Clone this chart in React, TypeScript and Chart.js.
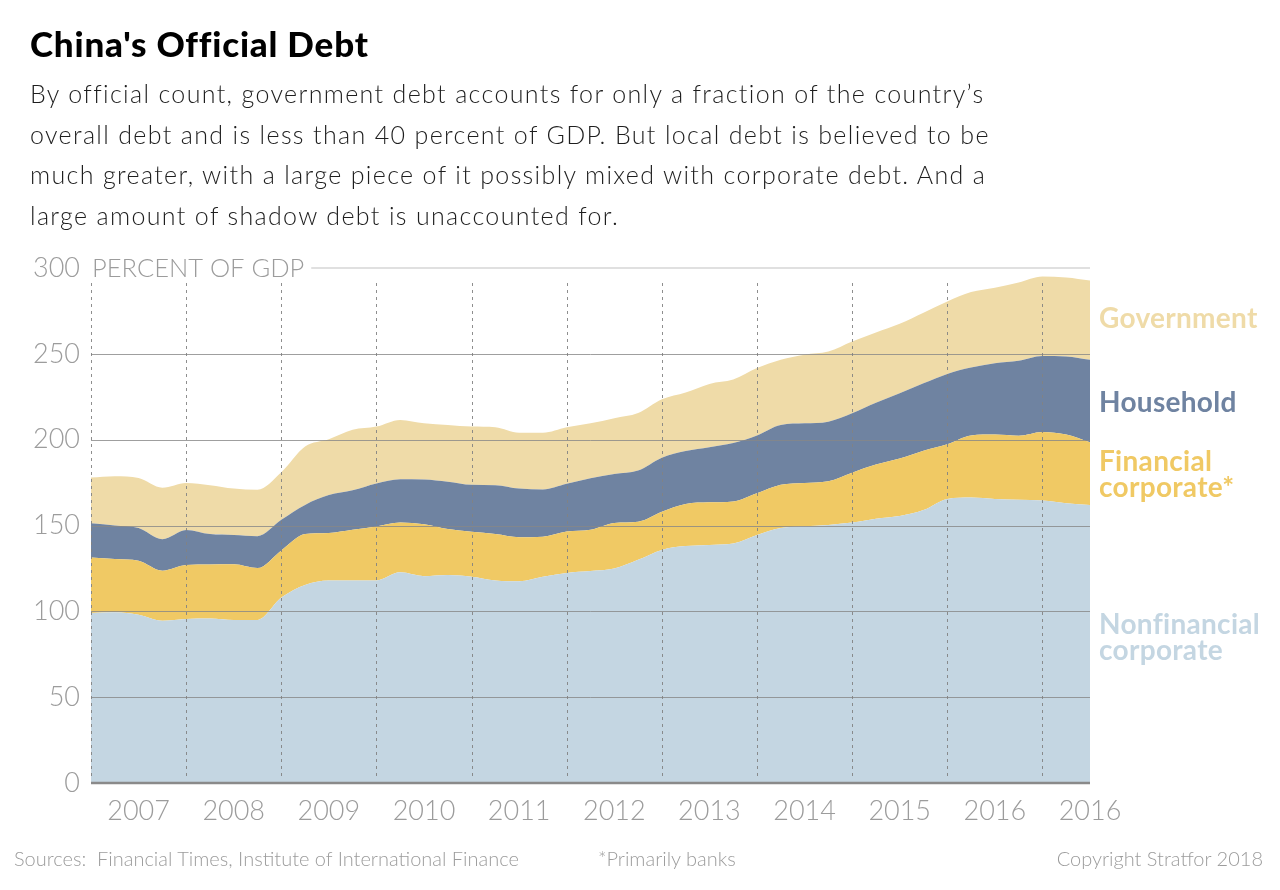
import React, { useEffect, useRef } from 'react';
import { Chart, registerables } from 'chart.js';

Chart.register(...registerables);

// Quarterly values, start of 2007 to mid-2017 (percent of GDP)
const nonfinancial = [
  99, 99.5, 98, 94.5, 95.5, 95.8, 95, 95, 108, 115.4, 118, 118, 118, 122.7, 120.5, 121.2,
  120.2, 118, 117.5, 120.2, 122.4, 123.5, 125, 130, 135.8, 138, 138.7, 139.5, 144.5, 148.5,
  149.5, 150.3, 151.7, 154, 155.5, 159, 165.5, 166.3, 165.5, 165, 164.5, 163, 162,
];
const financial = [
  32.3, 31, 31.5, 29.2, 31.5, 31.5, 32.4, 30.2, 27.5, 29.6, 27.7, 29.5, 31.4, 29, 30.3, 26.8,
  26.1, 27, 25.7, 23.3, 24.1, 24, 26.5, 22.2, 22.2, 24.5, 24.8, 24.5, 24.3, 25.2,
  25.3, 25.5, 29.1, 31.5, 33.5, 34.5, 31.8, 36.2, 37.5, 37.3, 40, 40, 36.5,
];
const household = [
  20, 19.5, 19, 18.3, 20.4, 17.7, 17.1, 18.6, 17.8, 17, 22, 23, 25.1, 25.3, 26, 27.5,
  27.4, 28.5, 28.3, 27.5, 27.8, 30, 28.5, 29.8, 31.5, 30.9, 32.1, 34, 33.7, 34.9,
  34.7, 34.7, 34.6, 36, 38, 39.3, 41, 39.5, 41.5, 43.7, 44.3, 45.5, 48,
];
const government = [
  26.6, 28.7, 29.1, 30, 27.4, 28.5, 27, 27, 27.7, 34, 32.6, 35.3, 33.1, 34.5, 32.7, 33,
  33.9, 33.7, 32.5, 33, 32.9, 32, 32.5, 33.5, 34, 34.1, 36.9, 37, 39.2, 37.9,
  40, 40.8, 41.8, 41, 40.5, 41.2, 42.2, 44, 44, 45.5, 46.2, 46, 46.2,
];

const yearLabels = ['2007', '2008', '2009', '2010', '2011', '2012', '2013', '2014', '2015', '2016', '2016'];
const yTickValues = [0, 50, 100, 150, 200, 250, 300];
const gridValues = [50, 100, 150, 200, 250];

const seriesNames = ['Nonfinancial corporate', 'Financial corporate', 'Household', 'Government'];

const C_NONFIN = '#c4d6e2';
const C_FIN = '#f0c964';
const C_HH = '#6f83a1';
const C_GOV = '#efdba8';

const LIGHT = 'Lato, "Open Sans", sans-serif';

const overlayPlugin = {
  id: 'overlay',
  afterDatasetsDraw(chart: any) {
    const { ctx, chartArea: a, scales } = chart;
    const x = scales.x;
    const y = scales.y;
    ctx.save();
    ctx.lineWidth = 1;
    ctx.strokeStyle = 'rgba(135,135,135,0.8)';
    for (const v of gridValues) {
      const py = Math.round(y.getPixelForValue(v)) + 0.5;
      ctx.beginPath();
      ctx.moveTo(a.left, py);
      ctx.lineTo(a.right, py);
      ctx.stroke();
    }
    ctx.setLineDash([3, 4]);
    ctx.strokeStyle = 'rgba(130,130,130,0.9)';
    const nYears = Math.floor((nonfinancial.length - 1) / 4);
    for (let k = 0; k <= nYears; k++) {
      const px = Math.round(x.getPixelForValue(k * 4)) + 0.5;
      ctx.beginPath();
      ctx.moveTo(px, y.getPixelForValue(300) + 15);
      ctx.lineTo(px, y.getPixelForValue(0) - 7);
      ctx.stroke();
    }
    ctx.setLineDash([]);
    const topY = y.getPixelForValue(300);
    ctx.font = `300 25.5px ${LIGHT}`;
    ctx.fillStyle = '#9c9c9c';
    ctx.textBaseline = 'middle';
    ctx.textAlign = 'left';
    const label = 'PERCENT OF GDP';
    ctx.fillText(label, a.left + 1, topY + 1);
    const w = ctx.measureText(label).width;
    ctx.strokeStyle = '#e0e0e0';
    ctx.lineWidth = 2;
    ctx.beginPath();
    ctx.moveTo(a.left + w + 8, topY);
    ctx.lineTo(a.right, topY);
    ctx.stroke();
    const by = y.getPixelForValue(0);
    ctx.strokeStyle = '#8a8a8a';
    ctx.lineWidth = 2.5;
    ctx.beginPath();
    ctx.moveTo(a.left, by);
    ctx.lineTo(a.right, by);
    ctx.stroke();
    ctx.restore();
  },
};

function ChartCanvas() {
  const ref = useRef<HTMLCanvasElement | null>(null);
  useEffect(() => {
    if (!ref.current) return;
    const quarters = nonfinancial.map((_, i) => i);
    const series = [nonfinancial, financial, household, government];
    const colors = [C_NONFIN, C_FIN, C_HH, C_GOV];
    const chart = new Chart(ref.current, {
      type: 'line',
      data: {
        labels: quarters,
        datasets: series.map((d, i) => ({
          label: seriesNames[i],
          data: d,
          backgroundColor: colors[i],
          borderColor: colors[i],
          borderWidth: 0,
          pointRadius: 0,
          fill: i === 0 ? 'origin' : '-1',
          cubicInterpolationMode: 'monotone' as const,
        })),
      },
      options: {
        responsive: false,
        animation: false,
        layout: { padding: { left: 0, top: 268, right: 190, bottom: 67 } },
        plugins: { legend: { display: false }, tooltip: { enabled: false } },
        scales: {
          x: {
            type: 'linear',
            min: 0,
            max: nonfinancial.length - 1,
            grid: { display: false, drawTicks: false },
            border: { display: false },
            afterBuildTicks: (scale: any) => {
              scale.ticks = yearLabels.map((_, k) => ({ value: 2 + k * 4 }));
            },
            afterFit: (scale: any) => {
              scale.height = 40;
            },
            ticks: {
              padding: 12,
              maxRotation: 0,
              autoSkip: false,
              color: '#9c9c9c',
              font: { family: LIGHT, size: 27, weight: 300 as any },
              callback: (v: any) => {
                const k = Math.round((Number(v) - 2) / 4);
                return yearLabels[k] ?? '';
              },
            },
          },
          y: {
            stacked: true,
            min: 0,
            max: 300,
            grid: { display: false, drawTicks: false },
            border: { display: false },
            afterBuildTicks: (scale: any) => {
              scale.ticks = yTickValues.map((v) => ({ value: v }));
            },
            afterFit: (scale: any) => {
              scale.width = 91;
            },
            ticks: {
              padding: 11,
              color: '#9c9c9c',
              font: { family: LIGHT, size: 27, weight: 300 as any },
            },
          },
        },
      },
      plugins: [overlayPlugin],
    });
    return () => chart.destroy();
  }, []);
  return <canvas ref={ref} width={1280} height={890} style={{ position: 'absolute', left: 0, top: 0 }} />;
}

const legendBase: React.CSSProperties = {
  position: 'absolute',
  left: 1099,
  fontFamily: 'Lato, sans-serif',
  fontWeight: 700,
  fontSize: 28,
  letterSpacing: 0.3,
  lineHeight: '26px',
  whiteSpace: 'nowrap',
};

const footBase: React.CSSProperties = {
  position: 'absolute',
  top: 846,
  fontFamily: LIGHT,
  fontWeight: 300,
  fontSize: 20,
  lineHeight: '24px',
  color: '#9c9c9c',
  whiteSpace: 'pre',
};

export default function App() {
  return (
    <div style={{ position: 'absolute', left: 0, top: 0, width: 1280, height: 890, background: '#fff', overflow: 'hidden' }}>
      <ChartCanvas />
      <div
        style={{
          position: 'absolute', left: 30, top: 26, fontFamily: 'Lato, sans-serif', fontWeight: 900,
          fontSize: 35, lineHeight: '35px', color: '#000', letterSpacing: 0.8, whiteSpace: 'nowrap',
        }}
      >
        China's Official Debt
      </div>
      <div
        style={{
          position: 'absolute', left: 30, top: 73, fontFamily: LIGHT, fontWeight: 300,
          fontSize: 25, lineHeight: '40.7px', color: '#1e1e1e', letterSpacing: 1.35, whiteSpace: 'nowrap',
        }}
      >
        By official count, government debt accounts for only a fraction of the country’s<br />
        overall debt and is less than 40 percent of GDP. But local debt is believed to be<br />
        much greater, with a large piece of it possibly mixed with corporate debt. And a<br />
        large amount of shadow debt is unaccounted for.
      </div>
      <div style={{ ...legendBase, top: 304, color: C_GOV }}>Government</div>
      <div style={{ ...legendBase, top: 388, color: C_HH }}>Household</div>
      <div style={{ ...legendBase, top: 447, color: C_FIN }}>Financial<br />corporate*</div>
      <div style={{ ...legendBase, top: 610, color: C_NONFIN }}>Nonfinancial<br />corporate</div>
      <div style={{ ...footBase, left: 14 }}>{'Sources:  Financial Times, Institute of International Finance'}</div>
      <div style={{ ...footBase, left: 598 }}>*Primarily banks</div>
      <div style={{ ...footBase, right: 17 }}>Copyright Stratfor 2018</div>
    </div>
  );
}
